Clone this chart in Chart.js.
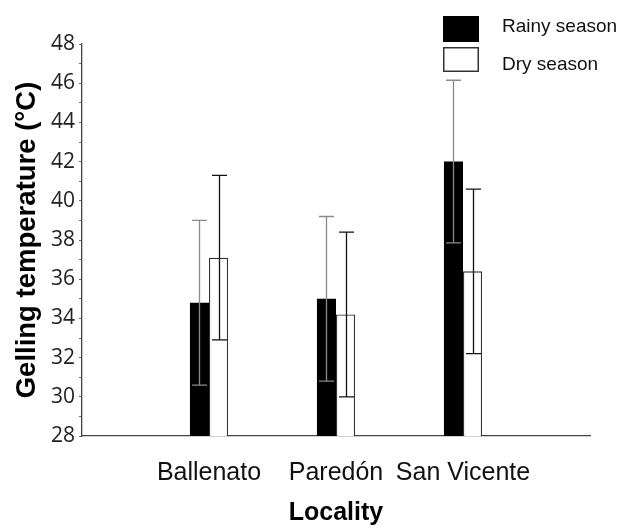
<!DOCTYPE html>
<html>
<head>
<meta charset="utf-8">
<script src="https://cdn.jsdelivr.net/npm/chart.js@4.4.1/dist/chart.umd.min.js"></script>
<style>
  html, body { margin: 0; padding: 0; background: #fff; }
  #wrap { width: 621px; height: 529px; }
</style>
</head>
<body>
<div id="wrap"><canvas id="c" width="621" height="529"></canvas></div>
<script>
// ---- data ----
const categories = ['Ballenato', 'Paredón', 'San Vicente'];
const seriesNames = ['Rainy season', 'Dry season'];
const rainyMean = [34.8, 35.0, 42.0];
const rainySD   = [4.2, 4.2, 4.15];
const dryMean   = [37.1, 34.2, 36.4];
const drySD     = [4.2, 4.2, 4.2];
const yTickMin = 28, yTickMax = 48, yTickStep = 2;

// category axis padded with one empty slot on each side
const labels = [''].concat(categories, ['']);
const pad = arr => [null].concat(arr, [null]);

const errorBarPlugin = {
  id: 'errorBars',
  afterDatasetsDraw(chart) {
    const ctx = chart.ctx;
    const y = chart.scales.y;
    const area = chart.chartArea;
    chart.data.datasets.forEach((ds, i) => {
      const meta = chart.getDatasetMeta(i);
      meta.data.forEach((bar, j) => {
        const m = ds.data[j];
        const sd = ds.sd[j];
        if (m == null || sd == null) return;
        const x = Math.round(bar.x) + 0.5;
        const yt = y.getPixelForValue(m + sd);
        const yb = y.getPixelForValue(m - sd);
        ctx.save();
        ctx.beginPath();
        ctx.rect(area.left, area.top - 5, area.right - area.left, area.bottom - area.top + 5);
        ctx.clip();
        ctx.strokeStyle = ds.errColor;
        ctx.lineWidth = 1.3;
        ctx.beginPath();
        ctx.moveTo(x, yt); ctx.lineTo(x, yb);
        ctx.moveTo(x - 7.5, yt); ctx.lineTo(x + 7.5, yt);
        ctx.moveTo(x - 7.5, yb); ctx.lineTo(x + 7.5, yb);
        ctx.stroke();
        ctx.restore();
      });
    });
  }
};

const legendPlugin = {
  id: 'customLegend',
  afterDraw(chart) {
    const ctx = chart.ctx;
    ctx.save();
    // Rainy box
    ctx.fillStyle = '#000';
    ctx.fillRect(443, 16, 36, 26);
    // Dry box
    ctx.fillStyle = '#fff';
    ctx.fillRect(443, 47, 36, 25);
    ctx.strokeStyle = '#333';
    ctx.lineWidth = 1.5;
    ctx.strokeRect(443.75, 47.75, 34.5, 23.5);
    ctx.fillStyle = '#111';
    ctx.font = '19px "Liberation Sans", Arial, sans-serif';
    ctx.textAlign = 'left';
    ctx.textBaseline = 'alphabetic';
    ctx.fillText(seriesNames[0], 502, 32);
    ctx.fillText(seriesNames[1], 502, 70);
    ctx.restore();
  }
};

new Chart(document.getElementById('c'), {
  type: 'bar',
  data: {
    labels: labels,
    datasets: [
      {
        label: seriesNames[0],
        data: pad(rainyMean),
        sd: pad(rainySD),
        backgroundColor: '#000',
        borderColor: '#000',
        borderWidth: 0,
        errColor: '#8a8a8a'
      },
      {
        label: seriesNames[1],
        data: pad(dryMean),
        sd: pad(drySD),
        backgroundColor: '#fff',
        borderColor: '#333',
        borderWidth: 1.3,
        errColor: '#111'
      }
    ]
  },
  options: {
    responsive: false,
    animation: false,
    devicePixelRatio: 1,
    layout: { padding: { top: 44, right: 31, left: 0, bottom: 0 } },
    plugins: {
      legend: { display: false },
      tooltip: { enabled: false }
    },
    datasets: {
      bar: { categoryPercentage: 0.3, barPercentage: 1.0 }
    },
    scales: {
      x: {
        type: 'category',
        offset: false,
        grid: { display: false, drawTicks: false },
        border: { display: true, color: '#444', width: 1.3 },
        ticks: {
          autoSkip: false,
          maxRotation: 0,
          padding: 22,
          color: '#111',
          font: { family: '"Liberation Sans", Arial, sans-serif', size: 25 }
        },
        title: {
          display: true,
          text: 'Locality',
          color: '#000',
          font: { family: '"Liberation Sans", Arial, sans-serif', size: 25, weight: 'bold' },
          padding: { top: 0, bottom: 1 }
        },
        afterFit(scale) { scale.height = 93; }
      },
      y: {
        min: yTickMin,
        max: yTickMax,
        grid: { display: true, drawOnChartArea: false, drawTicks: true, tickLength: 3, color: '#666' },
        border: { display: true, color: '#444', width: 1.3 },
        ticks: {
          stepSize: 1,
          autoSkip: false,
          padding: 4,
          color: '#222',
          font: { family: '"Open Sans", sans-serif', size: 21 },
          callback: v => ((v - yTickMin) % yTickStep === 0 ? v : '')
        },
        title: {
          display: true,
          text: 'Gelling temperature (°C)',
          color: '#000',
          font: { family: '"Liberation Sans", Arial, sans-serif', size: 27.5, weight: 'bold' },
          padding: { top: 11, bottom: 0 }
        },
        afterFit(scale) { scale.width = 82; }
      }
    }
  },
  plugins: [errorBarPlugin, legendPlugin]
});
</script>
</body>
</html>
